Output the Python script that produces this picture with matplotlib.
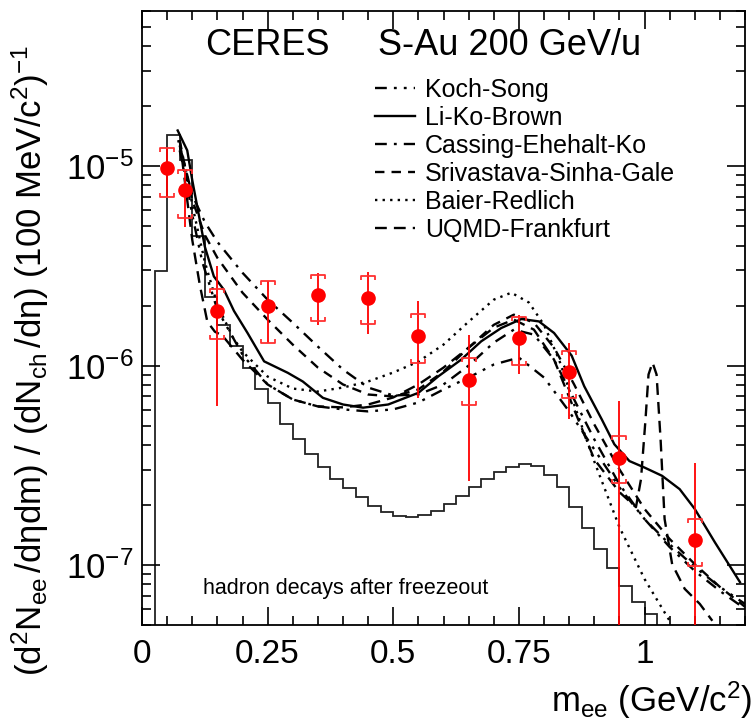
import numpy as np
import matplotlib
matplotlib.use('Agg')
import matplotlib.pyplot as plt
from matplotlib.path import Path
from matplotlib.ticker import LogLocator, MultipleLocator, FuncFormatter, NullFormatter

plt.rcParams['font.family'] = ['Liberation Sans', 'DejaVu Sans']
plt.rcParams['mathtext.fontset'] = 'custom'
plt.rcParams['mathtext.rm'] = 'Liberation Sans'
plt.rcParams['mathtext.it'] = 'Liberation Sans:italic'
plt.rcParams['mathtext.bf'] = 'Liberation Sans:bold'

# CERES S-Au data (values in units of 1e-6)
mass = [0.05, 0.085, 0.15, 0.25, 0.35, 0.45, 0.55, 0.65, 0.75, 0.85, 0.95, 1.10]
yield_ee = np.array([9.74, 7.59, 1.88, 1.98, 2.25, 2.19, 1.40, 0.844, 1.375, 0.928, 0.345, 0.134]) * 1e-6
stat_hi = np.array([12.3, 9.55, 3.14, 2.67, 2.92, 2.93, 2.11, 1.43, 1.80, 1.30, 0.668, 0.326]) * 1e-6
stat_lo = np.array([7.02, 4.97, 0.63, 1.30, 1.60, 1.445, 0.69, 0.263, 0.91, 0.537, 0.01, 0.01]) * 1e-6
sys_hi = np.array([12.3, 9.55, 2.43, 2.67, 2.85, 2.80, 1.82, 1.096, 1.75, 1.18, 0.443, 0.171]) * 1e-6
sys_lo = np.array([7.02, 5.47, 1.365, 1.30, 1.665, 1.62, 1.035, 0.633, 1.01, 0.69, 0.257, 0.0985]) * 1e-6

# hadron decay cocktail, 25 MeV bins from 0.025 to 1.025
hist_edges = np.round(np.arange(0.025, 1.0251, 0.025), 3)
hist_vals = np.array([2.99, 14.3, 10.7, 4.47, 2.22, 1.59, 1.26, 0.974, 0.765, 0.646,
                      0.51, 0.427, 0.359, 0.31, 0.269, 0.242, 0.218, 0.198, 0.185, 0.176,
                      0.174, 0.178, 0.186, 0.202, 0.221, 0.245, 0.269, 0.292, 0.309, 0.32,
                      0.313, 0.283, 0.245, 0.196, 0.153, 0.12, 0.0963, 0.0783, 0.0651, 0.0569]) * 1e-6

# model curves
koch_x = [0.075, 0.09, 0.1, 0.12, 0.15, 0.2, 0.25, 0.3, 0.35, 0.4, 0.45, 0.5, 0.55, 0.6, 0.65,
          0.7, 0.75, 0.8, 0.85, 0.9, 0.95, 1.0, 1.05, 1.1, 1.15, 1.2]
koch_y = np.array([12.0, 8.04, 5.69, 3.31, 1.905, 1.135, 0.804, 0.676, 0.624, 0.603, 0.589, 0.603,
                   0.653, 0.759, 0.871, 1.012, 1.096, 0.871, 0.589, 0.38, 0.245, 0.17, 0.127,
                   0.0977, 0.0776, 0.0638]) * 1e-6

lkb_x = [0.071, 0.09, 0.10, 0.11, 0.125, 0.143, 0.163, 0.183, 0.21, 0.243, 0.29, 0.32, 0.36, 0.40,
         0.44, 0.49, 0.55, 0.59, 0.635, 0.675, 0.715, 0.755, 0.79, 0.82, 0.855, 0.88, 0.915, 0.94,
         0.97, 1.0, 1.035, 1.07, 1.10, 1.14, 1.19]
lkb_y = np.array([15.1, 12.0, 8.51, 6.26, 3.95, 2.80, 2.40, 1.88, 1.457, 1.05, 0.92, 0.832, 0.689,
                  0.638, 0.615, 0.638, 0.73, 0.884, 1.07, 1.323, 1.543, 1.712, 1.665, 1.457, 1.122,
                  0.788, 0.537, 0.403, 0.332, 0.308, 0.28, 0.24, 0.191, 0.13, 0.082]) * 1e-6

cek_x = [0.075, 0.09, 0.1, 0.125, 0.15, 0.2, 0.25, 0.3, 0.35, 0.4, 0.45, 0.5, 0.55, 0.6, 0.65,
         0.7, 0.74, 0.78, 0.82, 0.86, 0.9, 0.95, 1.0, 1.05, 1.1, 1.15, 1.2]
cek_y = np.array([12.7, 9.02, 7.16, 5.25, 4.17, 2.92, 2.14, 1.64, 1.245, 0.955, 0.776, 0.708, 0.716,
                  0.804, 1.0, 1.303, 1.514, 1.429, 1.07, 0.676, 0.427, 0.254, 0.17, 0.123, 0.0933,
                  0.0741, 0.0603]) * 1e-6

ssg_x = [0.075, 0.09, 0.1, 0.125, 0.15, 0.2, 0.25, 0.3, 0.35, 0.4, 0.45, 0.5, 0.55, 0.6, 0.65,
         0.7, 0.74, 0.78, 0.82, 0.86, 0.9, 0.95, 1.0, 1.05, 1.1, 1.15, 1.2]
ssg_y = np.array([13.5, 8.71, 6.76, 4.52, 3.47, 2.32, 1.70, 1.274, 0.977, 0.804, 0.716, 0.70, 0.759,
                  0.933, 1.23, 1.60, 1.80, 1.64, 1.23, 0.804, 0.507, 0.302, 0.191, 0.135, 0.101,
                  0.0776, 0.0617]) * 1e-6

br_x = [0.072, 0.09, 0.1, 0.125, 0.15, 0.18, 0.2, 0.25, 0.3, 0.35, 0.4, 0.45, 0.5, 0.55, 0.6,
        0.65, 0.7, 0.735, 0.77, 0.8, 0.83, 0.86, 0.9, 0.95, 1.0, 1.05]
br_y = np.array([13.5, 9.02, 6.38, 3.31, 2.02, 1.396, 1.175, 0.881, 0.767, 0.741, 0.776, 0.832,
                 0.923, 1.047, 1.274, 1.66, 2.14, 2.32, 2.07, 1.60, 1.07, 0.638, 0.331, 0.155,
                 0.0851, 0.0525]) * 1e-6

uqmd_x = [0.075, 0.09, 0.1, 0.115, 0.13, 0.145, 0.16, 0.2, 0.25, 0.3, 0.35, 0.4, 0.45, 0.5, 0.55,
          0.6, 0.65, 0.7, 0.74, 0.78, 0.82, 0.86, 0.9, 0.95, 0.983, 0.993, 1.002, 1.008, 1.016,
          1.024, 1.032, 1.04, 1.055, 1.08, 1.11, 1.135]
uqmd_y = np.array([13.5, 6.76, 4.27, 2.54, 1.66, 1.479, 1.413, 1.07, 0.804, 0.676, 0.624, 0.617,
                   0.638, 0.692, 0.804, 0.977, 1.23, 1.549, 1.70, 1.514, 1.07, 0.603, 0.339, 0.232,
                   0.195, 0.269, 0.537, 0.902, 1.035, 0.902, 0.427, 0.17, 0.101, 0.0759, 0.0638,
                   0.0525]) * 1e-6

fig = plt.figure(figsize=(7.55, 7.2), dpi=100)
ax = fig.add_axes([142 / 755, 95 / 720, 603 / 755, 614 / 720])
ax.set_yscale('log')
ax.set_xlim(0, 1.2)
ax.set_ylim(5e-8, 6e-5)

ax.stairs(hist_vals, hist_edges, baseline=1e-10, color='#222222', lw=1.3)

lw = 1.7
l_koch, = ax.plot(koch_x, koch_y, color='k', lw=lw, ls=(0, (5, 3, 1.2, 3, 1.2, 3)), label='Koch-Song')
l_lkb, = ax.plot(lkb_x, lkb_y, color='k', lw=lw, ls='-', label='Li-Ko-Brown')
l_cek, = ax.plot(cek_x, cek_y, color='k', lw=lw, ls=(0, (5, 3, 1.2, 3)), label='Cassing-Ehehalt-Ko')
l_ssg, = ax.plot(ssg_x, ssg_y, color='k', lw=lw, ls=(0, (4, 3)), label='Srivastava-Sinha-Gale')
l_br, = ax.plot(br_x, br_y, color='k', lw=lw, ls=(0, (1, 2.2)), label='Baier-Redlich')
l_uqmd, = ax.plot(uqmd_x, uqmd_y, color='k', lw=lw, ls=(0, (5, 3)), label='UQMD-Frankfurt')

# data: statistical bars, systematic brackets, points
red = '#ff0000'
ax.vlines(mass, stat_lo, stat_hi, color=red, lw=1.3, zorder=5)
top_br = Path([(-1, -0.6), (-1, 0), (1, 0), (1, -0.6)])
bot_br = Path([(-1, 0.6), (-1, 0), (1, 0), (1, 0.6)])
ax.plot(mass, sys_hi, ls='none', marker=top_br, ms=9.6, mew=1.3, mfc='none', mec='#ff3030', zorder=5)
ax.plot(mass, sys_lo, ls='none', marker=bot_br, ms=9.6, mew=1.3, mfc='none', mec='#ff3030', zorder=5)
ax.plot(mass, yield_ee, ls='none', marker='o', ms=9.5, color=red, mec=red, zorder=6)

# axes styling
ax.xaxis.set_major_locator(MultipleLocator(0.25))
ax.xaxis.set_minor_locator(MultipleLocator(0.05))
ax.xaxis.set_major_formatter(FuncFormatter(lambda v, p: '%g' % v))
ax.yaxis.set_major_locator(LogLocator(base=10))
ax.yaxis.set_minor_locator(LogLocator(base=10, subs=np.arange(2, 10)))
ax.yaxis.set_minor_formatter(NullFormatter())
ax.yaxis.set_major_formatter(FuncFormatter(lambda v, p: r'$\mathregular{10^{%d}}$' % round(np.log10(v))))
ax.tick_params(which='both', direction='in', top=True, right=True, width=1.2)
ax.tick_params(which='major', length=13)
ax.tick_params(which='minor', length=6.5)
ax.tick_params(axis='x', pad=10, labelsize=24)
ax.tick_params(axis='y', pad=6, labelsize=25)
for s in ax.spines.values():
    s.set_linewidth(1.3)

ax.text(0.1045, 0.943, 'CERES', transform=ax.transAxes, fontsize=26, va='center', ha='left')
ax.text(0.391, 0.943, 'S-Au 200 GeV/u', transform=ax.transAxes, fontsize=26, va='center', ha='left')
ax.text(0.101, 0.06, 'hadron decays after freezeout', transform=ax.transAxes, fontsize=15.5,
        va='center', ha='left')

ax.legend(handles=[l_koch, l_lkb, l_cek, l_ssg, l_br, l_uqmd], loc='upper left',
          bbox_to_anchor=(0.386, 0.891), frameon=False, fontsize=18, handlelength=1.6,
          handletextpad=0.4, labelspacing=0.16, borderpad=0, borderaxespad=0)

fig.text(752 / 755, 0.028, r'$\mathregular{m_{ee}\ (GeV/c^2)}$', fontsize=25, ha='right', va='center')
fig.text(30 / 755, 0.5, r'$\mathregular{(d^2N_{ee}\,/d\eta dm)\ /\ (dN_{ch}\,/d\eta)\ (100\ MeV/c^2)^{-1}}$',
         fontsize=25, rotation=90, ha='center', va='center')

fig.savefig('out.png', dpi=100)
